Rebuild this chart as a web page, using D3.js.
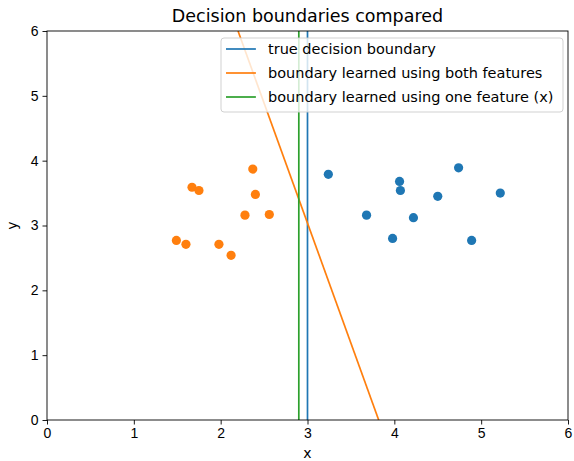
<!DOCTYPE html>
<html lang="en">
<head>
  <meta charset="UTF-8">
  <title>Decision boundaries compared</title>
  <script src="https://d3js.org/d3.v7.min.js"></script>
  <style>
    body { margin: 0; background: #fff; font-family: "DejaVu Sans", sans-serif; }
    svg { display: block; }
    .axis text { font-size: 14px; fill: #000; }
    .axis path, .axis line { stroke: #000; stroke-width: 0.9px; }
  </style>
</head>
<body>
  <svg id="chart" width="574" height="461"></svg>

  <script>
    // class 0 (orange) and class 1 (blue) samples
    const orangeX = [2.37, 1.67, 1.75, 2.40, 2.28, 2.56, 1.49, 1.60, 1.98, 2.12];
    const orangeY = [3.87, 3.59, 3.54, 3.48, 3.16, 3.17, 2.77, 2.71, 2.71, 2.54];
    const blueX = [3.24, 4.06, 4.07, 4.74, 4.50, 5.22, 3.68, 4.22, 3.98, 4.89];
    const blueY = [3.79, 3.68, 3.54, 3.89, 3.45, 3.50, 3.16, 3.12, 2.80, 2.77];

    // boundaries as two end points each
    const trueBoundary = [[3.0, 0], [3.0, 6]];
    const bothBoundary = [[2.20, 6], [3.82, 0]];
    const oneBoundary = [[2.9, 0], [2.9, 6]];

    const ticks = [0, 1, 2, 3, 4, 5, 6];

    const svg = d3.select("#chart");
    const margin = { left: 47, right: 6, top: 31, bottom: 41 };
    const width = 574, height = 461;

    const x = d3.scaleLinear().domain([0, 6]).range([margin.left, width - margin.right]);
    const y = d3.scaleLinear().domain([0, 6]).range([height - margin.bottom, margin.top]);

    svg.append("defs").append("clipPath").attr("id", "clip")
      .append("rect")
        .attr("x", x(0)).attr("y", y(6))
        .attr("width", x(6) - x(0)).attr("height", y(0) - y(6));

    const plot = svg.append("g").attr("clip-path", "url(#clip)");

    const line = d3.line().x(d => x(d[0])).y(d => y(d[1]));
    const lines = [
      { pts: trueBoundary, color: "#1f77b4", label: "true decision boundary" },
      { pts: bothBoundary, color: "#ff7f0e", label: "boundary learned using both features" },
      { pts: oneBoundary, color: "#2ca02c", label: "boundary learned using one feature (x)" }
    ];

    plot.selectAll("path.boundary")
      .data(lines)
      .join("path")
        .attr("class", "boundary")
        .attr("d", d => line(d.pts))
        .attr("fill", "none")
        .attr("stroke", d => d.color)
        .attr("stroke-width", 1.7);

    const blue = blueX.map((v, i) => [v, blueY[i]]);
    const orange = orangeX.map((v, i) => [v, orangeY[i]]);

    plot.append("g").selectAll("circle")
      .data(blue)
      .join("circle")
        .attr("cx", d => x(d[0]))
        .attr("cy", d => y(d[1]))
        .attr("r", 4.6)
        .attr("fill", "#1f77b4");

    plot.append("g").selectAll("circle")
      .data(orange)
      .join("circle")
        .attr("cx", d => x(d[0]))
        .attr("cy", d => y(d[1]))
        .attr("r", 4.6)
        .attr("fill", "#ff7f0e");

    // axes
    svg.append("g")
      .attr("class", "axis")
      .attr("transform", `translate(0,${y(0)})`)
      .call(d3.axisBottom(x).tickValues(ticks).tickSize(4.5).tickPadding(4).tickFormat(d3.format("d")));

    svg.append("g")
      .attr("class", "axis")
      .attr("transform", `translate(${x(0)},0)`)
      .call(d3.axisLeft(y).tickValues(ticks).tickSize(4.5).tickPadding(4).tickFormat(d3.format("d")));

    // frame
    svg.append("rect")
      .attr("x", x(0)).attr("y", y(6))
      .attr("width", x(6) - x(0)).attr("height", y(0) - y(6))
      .attr("fill", "none").attr("stroke", "#000").attr("stroke-width", 0.9);

    svg.selectAll(".axis .domain").remove();

    // title and labels
    svg.append("text")
      .attr("x", (x(0) + x(6)) / 2).attr("y", 22)
      .attr("text-anchor", "middle")
      .attr("font-size", "17.5px")
      .text("Decision boundaries compared");

    svg.append("text")
      .attr("x", (x(0) + x(6)) / 2).attr("y", 458)
      .attr("text-anchor", "middle")
      .attr("font-size", "14px")
      .text("x");

    svg.append("text")
      .attr("transform", `translate(17,${(y(0) + y(6)) / 2}) rotate(-90)`)
      .attr("text-anchor", "middle")
      .attr("font-size", "14px")
      .text("y");

    // legend
    const legend = svg.append("g").attr("transform", "translate(221,38)");
    legend.append("rect")
      .attr("width", 342).attr("height", 74)
      .attr("rx", 3)
      .attr("fill", "#fff").attr("fill-opacity", 0.8)
      .attr("stroke", "#ccc").attr("stroke-width", 0.9);

    const item = legend.selectAll("g.item")
      .data(lines)
      .join("g")
        .attr("class", "item")
        .attr("transform", (d, i) => `translate(0,${11 + i * 24})`);

    item.append("line")
      .attr("x1", 5).attr("x2", 35)
      .attr("stroke", d => d.color)
      .attr("stroke-width", 1.7);

    item.append("text")
      .attr("x", 47).attr("dy", "0.35em")
      .attr("font-size", "14.5px")
      .text(d => d.label);
  </script>
</body>
</html>
